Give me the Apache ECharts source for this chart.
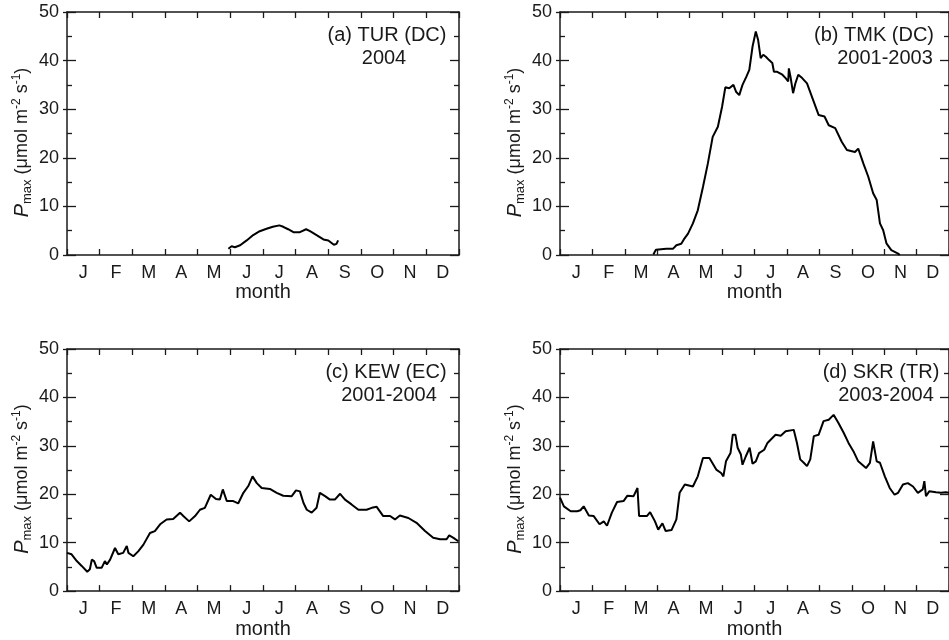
<!DOCTYPE html>
<html>
<head>
<meta charset="utf-8">
<script src="https://cdn.jsdelivr.net/npm/echarts@6/dist/echarts.min.js"></script>
<style>html,body{margin:0;padding:0;background:#fff}#c{width:949px;height:640px}</style>
</head>
<body>
<div id="c"></div>
<script>
const months = ['J','F','M','A','M','J','J','A','S','O','N','D'];
const yTicks = [0, 10, 20, 30, 40, 50];

// (a) TUR (DC) 2004 — x in months since Jan 1
const turX = [4.94,5.04,5.14,5.3,5.5,5.7,5.9,6.11,6.3,6.5,6.62,6.77,6.93,7.13,7.32,7.44,7.64,7.85,8.0,8.05,8.17,8.25,8.3];
const turY = [1.3,1.8,1.6,2.0,3.0,4.1,4.9,5.4,5.8,6.1,5.8,5.3,4.7,4.7,5.3,4.9,4.1,3.2,3.0,2.7,2.1,2.3,3.0];

// (b) TMK (DC) 2001-2003
const tmkX = [2.88,2.96,3.28,3.49,3.59,3.74,3.82,3.95,4.1,4.25,4.41,4.56,4.71,4.87,5.0,5.1,5.22,5.35,5.43,5.53,5.63,5.75,5.84,5.94,6.04,6.11,6.19,6.27,6.35,6.45,6.55,6.6,6.7,6.86,6.96,7.04,7.06,7.11,7.19,7.26,7.35,7.47,7.62,7.77,7.98,8.16,8.29,8.49,8.69,8.85,9.1,9.2,9.36,9.51,9.66,9.77,9.87,9.97,10.07,10.22,10.43,10.48];
const tmkY = [0.1,1.1,1.3,1.3,2.0,2.3,3.2,4.4,6.5,9.2,14.0,18.8,24.3,26.4,30.5,34.5,34.3,35.0,33.6,32.9,35.0,36.7,38.1,42.9,46.0,44.3,40.5,41.2,40.8,40.1,39.5,37.7,37.7,37.1,36.4,35.7,38.4,36.7,33.3,35.3,37.1,36.4,35.3,32.6,28.8,28.5,26.7,26.1,23.3,21.6,21.2,21.9,18.8,16.1,12.7,11.3,6.5,5.1,2.4,1.0,0.3,0.0];

// (c) KEW (EC) 2001-2004
const kewX = [0,0.14,0.3,0.45,0.62,0.7,0.76,0.83,0.91,1.06,1.16,1.22,1.32,1.47,1.57,1.72,1.83,1.88,2.03,2.18,2.34,2.54,2.69,2.85,3.05,3.25,3.46,3.56,3.74,3.92,4.07,4.22,4.4,4.56,4.68,4.77,4.89,5.09,5.24,5.4,5.55,5.68,5.81,5.96,6.21,6.42,6.62,6.88,7.01,7.13,7.24,7.34,7.49,7.64,7.74,7.9,8.05,8.2,8.36,8.51,8.71,8.92,9.17,9.33,9.48,9.68,9.89,10.04,10.19,10.45,10.7,10.96,11.21,11.42,11.62,11.7,11.83,11.98];
const kewY = [7.9,7.6,6.2,5.2,4.0,4.5,6.5,6.2,4.8,4.8,6.2,5.5,6.5,8.9,7.6,7.9,9.3,7.9,7.2,8.2,9.6,12.0,12.4,13.8,14.8,14.9,16.2,15.5,14.4,15.5,16.8,17.2,19.9,19.0,18.9,21.0,18.6,18.6,18.1,20.3,21.7,23.7,22.3,21.3,21.1,20.3,19.7,19.6,20.8,20.6,18.2,16.8,16.2,17.2,20.3,19.6,18.9,18.9,20.1,18.9,17.9,16.8,16.8,17.2,17.4,15.5,15.5,14.8,15.6,15.1,14.1,12.4,11.0,10.7,10.7,11.5,11.0,10.3];

// (d) SKR (TR) 2003-2004
const skrX = [0,0.12,0.33,0.53,0.63,0.73,0.89,1.04,1.22,1.35,1.45,1.6,1.76,1.96,2.08,2.27,2.39,2.44,2.57,2.68,2.78,2.93,3.03,3.16,3.26,3.44,3.59,3.69,3.85,4.1,4.25,4.41,4.61,4.82,4.97,5.04,5.12,5.26,5.33,5.41,5.48,5.58,5.63,5.73,5.85,5.94,6.04,6.14,6.3,6.4,6.65,6.81,6.96,7.21,7.31,7.41,7.52,7.62,7.72,7.83,7.98,8.13,8.29,8.44,8.59,8.75,8.9,9.05,9.2,9.44,9.56,9.66,9.77,9.87,10.02,10.17,10.32,10.43,10.58,10.73,10.89,11.04,11.19,11.24,11.29,11.39,11.6,11.75,11.9,12.0];
const skrY = [19.3,17.5,16.5,16.5,16.7,17.5,15.6,15.5,13.8,14.4,13.5,16.2,18.4,18.6,19.7,19.6,21.3,15.5,15.5,15.5,16.3,14.4,12.7,14.0,12.4,12.6,14.8,20.3,22.0,21.6,23.7,27.5,27.5,25.1,24.4,23.7,26.8,28.5,32.3,32.3,29.6,28.2,26.1,27.8,29.6,26.3,26.8,28.5,29.2,30.6,32.3,32.1,33.0,33.3,30.6,27.2,26.5,25.8,27.2,32.0,32.3,35.1,35.4,36.4,34.7,32.7,30.6,28.9,26.8,25.4,26.5,30.9,26.8,26.5,23.7,21.3,19.9,20.3,22.0,22.3,21.6,20.3,21.0,22.7,19.6,20.6,20.4,20.3,20.4,20.3];

const panels = [
  {x: turX, y: turY, left: 67, top: 12, t1: '(a) TUR (DC)', t2: '2004', c1: 387, c2: 384},
  {x: tmkX, y: tmkY, left: 560, top: 12, t1: '(b) TMK (DC)', t2: '2001-2003', c1: 874, c2: 885},
  {x: kewX, y: kewY, left: 67, top: 349, t1: '(c) KEW (EC)', t2: '2001-2004', c1: 386, c2: 389},
  {x: skrX, y: skrY, left: 560, top: 349, t1: '(d) SKR (TR)', t2: '2003-2004', c1: 881, c2: 886}
];

const FONT = 'Liberation Sans, Arial, sans-serif';
const INK = '#1a1a1a';
const W = 392, H = 243;

const grid = [], xAxis = [], yAxis = [], series = [], graphic = [];
panels.forEach((p, i) => {
  grid.push({left: p.left, top: p.top, width: W, height: H, containLabel: false});
  const axLine = {show: true, onZero: false, lineStyle: {color: INK, width: 1.5}};
  xAxis.push({
    type: 'value', gridIndex: i, position: 'bottom', min: 0, max: 12, interval: 1,
    axisLine: axLine, axisTick: {show: true, inside: true, length: 6, lineStyle: {color: INK, width: 1.3}},
    axisLabel: {show: false}, splitLine: {show: false}
  });
  xAxis.push({
    type: 'value', gridIndex: i, position: 'top', min: 0, max: 12, interval: 1,
    axisLine: axLine, axisTick: {show: true, inside: true, length: 6, lineStyle: {color: INK, width: 1.3}},
    axisLabel: {show: false}, splitLine: {show: false}
  });
  xAxis.push({
    type: 'category', gridIndex: i, position: 'bottom', data: months, boundaryGap: true,
    axisLine: {show: false, onZero: false}, axisTick: {show: false}, splitLine: {show: false},
    axisLabel: {show: true, color: INK, fontFamily: FONT, fontSize: 18, margin: 9},
    name: 'month', nameLocation: 'middle', nameGap: 26,
    nameTextStyle: {color: INK, fontFamily: FONT, fontSize: 20}
  });
  yAxis.push({
    type: 'value', gridIndex: i, position: 'left', min: 0, max: 50, interval: 10,
    axisLine: axLine,
    axisTick: {show: true, inside: true, length: 9, lineStyle: {color: INK, width: 1.3}},
    minorTick: {show: true, splitNumber: 2, length: 5, lineStyle: {color: INK, width: 1.3}},
    axisLabel: {show: true, color: INK, fontFamily: FONT, fontSize: 18, margin: 8,
      formatter: v => yTicks.indexOf(v) >= 0 ? String(v) : ''},
    splitLine: {show: false},
    name: '{i|P}{sub|max}{n| (μmol m}{sup|-2}{n| s}{sup|-1}{n|)}',
    nameLocation: 'middle', nameGap: 33, nameRotate: 90,
    nameTextStyle: {
      color: INK, fontFamily: FONT, fontSize: 18, padding: [0, 18, 0, 0],
      rich: {
        i: {fontStyle: 'italic', fontSize: 20, fontFamily: FONT, color: INK},
        n: {fontSize: 18, fontFamily: FONT, color: INK},
        sub: {fontSize: 13, fontFamily: FONT, color: INK, padding: [11, 0, 0, 0]},
        sup: {fontSize: 12, fontFamily: FONT, color: INK, padding: [0, 0, 10, 0]}
      }
    }
  });
  yAxis.push({
    type: 'value', gridIndex: i, position: 'right', min: 0, max: 50, interval: 10,
    axisLine: axLine,
    axisTick: {show: true, inside: true, length: 9, lineStyle: {color: INK, width: 1.3}},
    minorTick: {show: true, splitNumber: 2, length: 5, lineStyle: {color: INK, width: 1.3}},
    axisLabel: {show: false}, splitLine: {show: false}
  });
  series.push({
    type: 'line', xAxisIndex: i * 3, yAxisIndex: i * 2,
    data: p.x.map((m, k) => [m, p.y[k]]),
    showSymbol: false, symbol: 'none', smooth: false,
    lineStyle: {color: '#000', width: 2}, animation: false
  });
  graphic.push({type: 'text', x: p.c1, y: p.top + 23, style: {text: p.t1, fill: INK, font: '20px ' + FONT, textAlign: 'center', textVerticalAlign: 'middle'}});
  graphic.push({type: 'text', x: p.c2, y: p.top + 46, style: {text: p.t2, fill: INK, font: '20px ' + FONT, textAlign: 'center', textVerticalAlign: 'middle'}});
});
// short outward stubs of the major y ticks on the left axes
panels.forEach((p, i) => {
  yAxis.push({
    type: 'value', gridIndex: i, position: 'left', min: 0, max: 50, interval: 10,
    axisLine: {show: false, onZero: false},
    axisTick: {show: true, inside: false, length: 4, lineStyle: {color: INK, width: 1.3}},
    axisLabel: {show: false}, splitLine: {show: false}
  });
});

const chart = echarts.init(document.getElementById('c'), null, {renderer: 'canvas'});
chart.setOption({backgroundColor: '#fff', animation: false, grid, xAxis, yAxis, series, graphic});
</script>
</body>
</html>
